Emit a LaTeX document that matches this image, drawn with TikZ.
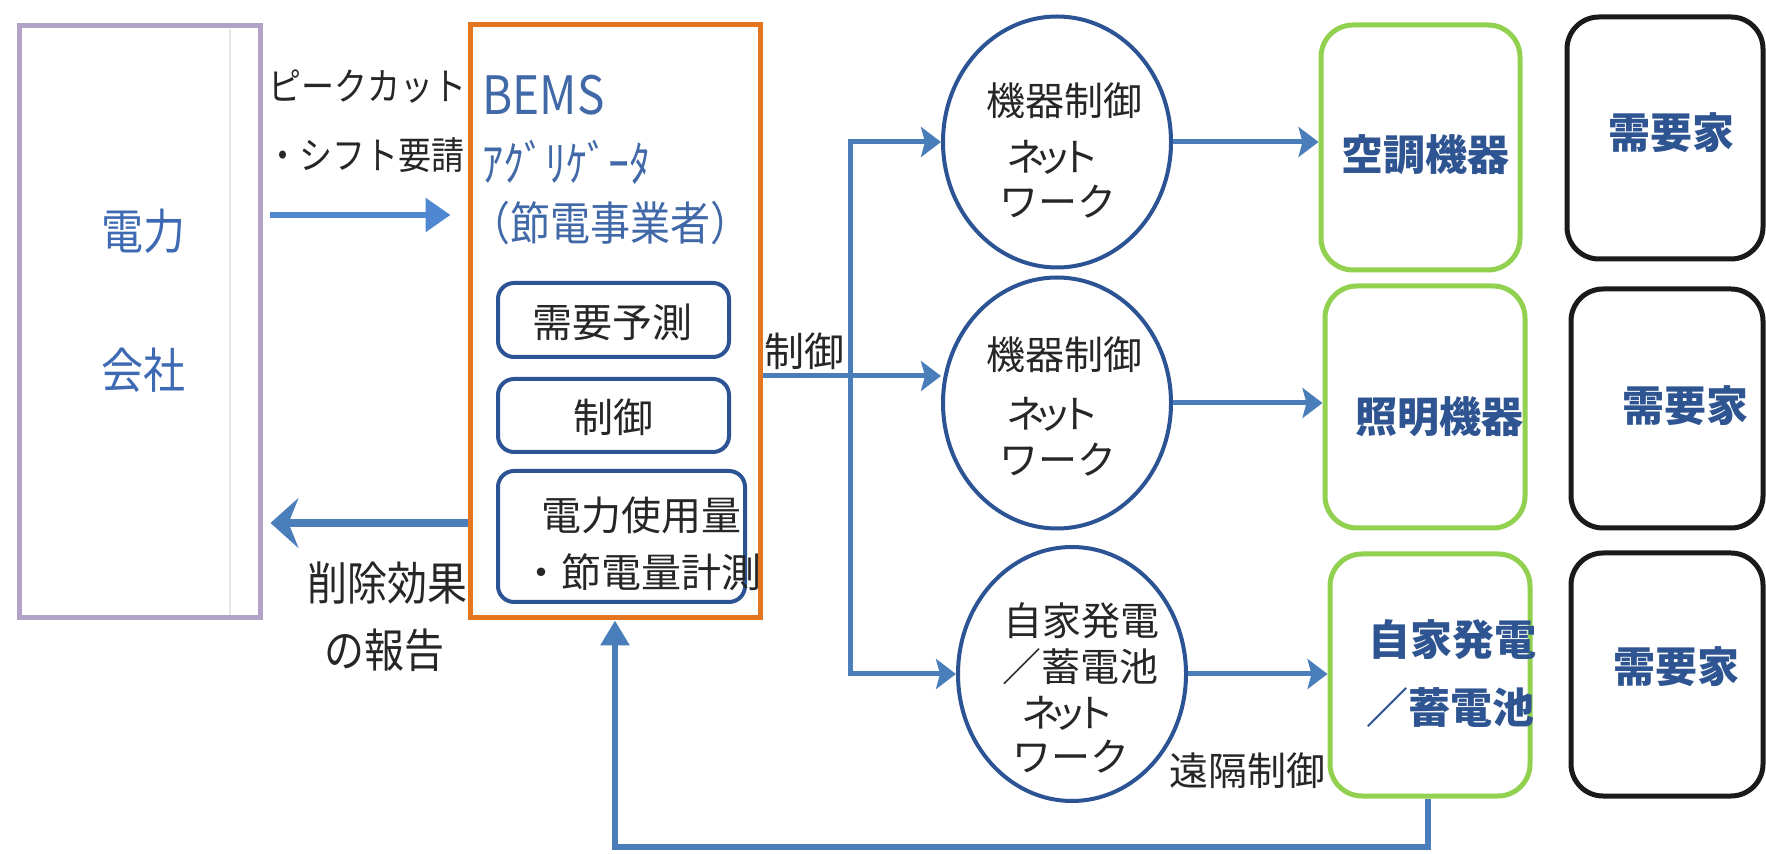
\documentclass[tikz,border=0pt]{standalone}
\usepackage{fontspec}
\setmainfont{Noto Sans CJK JP}
\usetikzlibrary{shapes.geometric,arrows.meta,fit}
\definecolor{cpurple}{HTML}{B3A2C7}
\definecolor{corange}{HTML}{E4761F}
\definecolor{cgreen}{HTML}{92D050}
\definecolor{cblack}{HTML}{1A1A1A}
\definecolor{cnavy}{HTML}{2C5494}
\definecolor{carrow}{HTML}{4A7EBB}
\definecolor{carrowl}{HTML}{4F88D0}
\definecolor{ctblue}{HTML}{3E6AB3}
\definecolor{ctbems}{HTML}{4169A8}
\definecolor{ctdark}{HTML}{2E5491}
\definecolor{ctxt}{HTML}{262626}
\definecolor{clgray}{HTML}{E6E6E6}
\newcommand\vstretch[1]{\scalebox{1}[1.15]{#1}}
\tikzset{
  pbox/.style={draw=cpurple, line width=2.5pt, inner sep=0pt},
  obox/.style={draw=corange, line width=2.5pt, inner sep=0pt},
  ibox/.style={draw=cnavy, line width=2pt, rounded corners=8pt, inner sep=0pt},
  gbox/.style={draw=cgreen, line width=2.5pt, rounded corners=16pt, inner sep=0pt},
  kbox/.style={draw=cblack, line width=2.5pt, rounded corners=16pt, inner sep=0pt},
  circ/.style={ellipse, draw=cnavy, line width=2pt, inner sep=0pt, minimum width=114pt, minimum height=125.5pt},
  tpc/.style={text=ctblue, inner sep=0pt, font=\fontsize{21pt}{24pt}\selectfont},
  tbems/.style={text=ctbems, inner sep=0pt, anchor=west},
  tlab/.style={text=ctxt, inner sep=0pt, font=\fontsize{16.5pt}{19pt}\selectfont},
  tdk/.style={text=ctxt, inner sep=0pt, font=\fontsize{20pt}{23pt}\selectfont},
  tcir/.style={text=ctxt, inner sep=0pt, font=\fontsize{19.5pt}{22pt}\selectfont},
  tgr/.style={text=ctdark, inner sep=0pt, font=\fontsize{21pt}{24pt}\selectfont\bfseries},
  arrtop/.style={draw=carrowl, line width=3pt, -{Triangle[length=12.5pt,width=16.5pt]}},
  arrrep/.style={draw=carrow, line width=4pt, -{Stealth[length=14pt,width=25pt,inset=5pt]}},
  arrc/.style={draw=carrow, line width=2.5pt, -{Stealth[length=10pt,width=15pt,inset=2pt]}},
  arrfb/.style={draw=carrow, line width=3pt, -{Triangle[length=12.5pt,width=14pt]}},
}
\begin{document}
\begin{tikzpicture}[x=0.5pt,y=-0.5pt]
\useasboundingbox (0,0) rectangle (1766,854);
\fill[white] (0,0) rectangle (1766,854);

% power company
\node[pbox, fit={(19,26)(260,618)}] (pc) {};
\draw[draw=clgray, line width=1pt] (230,29) -- (230,615);
\node[tpc] (pc1) at (143,231) {\vstretch{電力}};
\node[tpc] (pc2) at (143,370) {\vstretch{会社}};

% BEMS aggregator
\node[obox, fit={(470,25)(760,618)}] (bems) {};
\node[tbems, font=\fontsize{23pt}{26pt}\selectfont] (b1) at (482,95) {\vstretch{BEMS}};
\node[tbems, font=\fontsize{21pt}{24pt}\selectfont] (b2) at (482,162) {\vstretch{ｱｸﾞﾘｹﾞｰﾀ}};
\node[tbems, font=\fontsize{20pt}{23pt}\selectfont] (b3) at (470,223) {\vstretch{（節電事業者）}};

\node[ibox, fit={(498,283)(729,357)}] (dp) {};
\node[tdk] (dpt) at (612,322) {需要予測};
\node[ibox, fit={(498,379)(729,452)}] (ct) {};
\node[tdk] (ctt) at (613,417) {制御};
\node[ibox, fit={(498,471)(745,602)}] (ms) {};
\node[tdk] (ms1) at (641,515) {電力使用量};
\node[tdk] (ms2) at (641,572) {・節電量計測};

% circles
\node[circ] (c1) at (1057,142) {};
\node[circ] (c2) at (1057,403) {};
\node[circ, minimum height=127pt] (c3) at (1072,674) {};

\node[tcir] (c1a) at (1064,101) {機器制御};
\node[tcir] (c1b) at (1053,157) {ネ\kern-6pt ッ\kern-6pt ト};
\node[tcir] (c1c) at (1058,202) {ワーク};
\node[tcir] (c2a) at (1064,355) {機器制御};
\node[tcir] (c2b) at (1053,414) {ネ\kern-6pt ッ\kern-6pt ト};
\node[tcir] (c2c) at (1058,460) {ワーク};
\node[tcir] (c3a) at (1081,621) {自家発電};
\node[tcir] (c3b) at (1080,667) {／蓄電池};
\node[tcir] (c3c) at (1068,713) {ネ\kern-6pt ッ\kern-6pt ト};
\node[tcir] (c3d) at (1071,757) {ワーク};

% device boxes
\node[gbox, fit={(1321,25)(1520,270)}] (g1) {};
\node[gbox, fit={(1325,286)(1525,528)}] (g2) {};
\node[gbox, fit={(1330,554)(1530,796)}] (g3) {};
\node[tgr] (g1t) at (1425,155) {空調機器};
\node[tgr] (g2t) at (1439,417) {照明機器};
\node[tgr] (g3a) at (1452,640) {自家発電};
\node[tgr] (g3b) at (1450,708) {／蓄電池};

% consumer boxes
\node[kbox, fit={(1567,17)(1763,259)}] (k1) {};
\node[kbox, fit={(1571,289)(1763,528)}] (k2) {};
\node[kbox, fit={(1571,553)(1763,796)}] (k3) {};
\node[tgr] (k1t) at (1671,133) {需要家};
\node[tgr] (k2t) at (1685,406) {需要家};
\node[tgr] (k3t) at (1676,667) {需要家};

% labels
\node[tlab, anchor=west] (l1) at (268,87) {\vstretch{ピークカット}};
\node[tlab, anchor=west] (l2) at (266,155) {\vstretch{・シフト要請}};
\node[tdk] (l3) at (387,583) {\vstretch{削除効果}};
\node[tdk] (l4) at (384,650) {\vstretch{の報告}};
\node[tdk] (l5) at (804,351) {制御};
\node[tcir] (l6) at (1247,771) {遠隔制御};

% connectors
\coordinate (yt) at (0,215);
\coordinate (yr) at (0,523);
\coordinate (sp) at (850,376);
\coordinate (fb) at (1428,847);

\draw[arrtop, shorten <=3.5pt, shorten >=8.5pt] (pc.east |- yt) -- (bems.west |- yt);
\draw[arrrep, shorten >=4pt] (bems.west |- yr) -- (pc.east |- yr);

\draw[arrc] (bems.east |- sp) -- (sp -| c2.west);
\draw[arrc] (sp) |- (c1.west);
\draw[arrc] (sp) |- (c3.west);

\draw[arrc] (c1.east) -- (g1.west |- c1.east);
\draw[arrc] (c2.east) -- (g2.west |- c2.east);
\draw[arrc] (c3.east) -- (g3.west |- c3.east);

\draw[arrfb] (fb |- g3.south) -- (fb) -| (bems.south);
\end{tikzpicture}
\end{document}
